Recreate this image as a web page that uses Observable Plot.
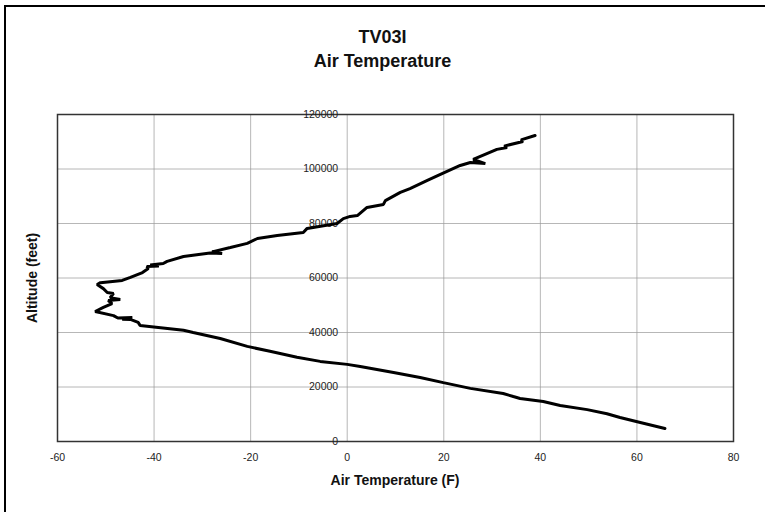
<!DOCTYPE html>
<html>
<head>
<meta charset="utf-8">
<script src="https://cdn.jsdelivr.net/npm/d3@7"></script>
<script src="https://cdn.jsdelivr.net/npm/@observablehq/plot@0.6"></script>
<style>
  html, body { margin: 0; padding: 0; background: #fff; }
  #wrap { position: relative; width: 765px; height: 512px; overflow: hidden; font-family: "Liberation Sans", Arial, sans-serif; }
  #border { position: absolute; left: 4px; top: 5px; width: 800px; height: 600px; border-left: 2px solid #000; border-top: 2px solid #000; }
  .t { position: absolute; left: 0; width: 765px; text-align: center; font-weight: bold; color: #111; }
  #xl { position: absolute; left: 57px; width: 676px; top: 472px; text-align: center; font-weight: bold; font-size: 14px; color: #111; }
  #yl { position: absolute; left: 32px; top: 278px; transform: translate(-50%, -50%) rotate(-90deg); white-space: nowrap; font-weight: bold; font-size: 14px; color: #111; }
  svg { position: absolute; left: 0; top: 0; }
</style>
</head>
<body>
<div id="wrap">
  <div id="chart"></div>
  <div id="border"></div>
  <div class="t" style="top:27px;font-size:18px;">TV03I</div>
  <div class="t" style="top:51px;font-size:18px;">Air Temperature</div>
  <div id="xl">Air Temperature (F)</div>
  <div id="yl">Altitude (feet)</div>
</div>
<script>
// Air temperature (F) vs altitude (feet), ordered from the surface upward
const temperature = [65.8, 60.7, 56.5, 53.8, 49.7, 44.1, 40.6, 35.8, 34.4, 32.3, 25.5, 19.9, 15.1, 9.6, 2.7, 0, -5.6, -10.4, -16, -20.7, -26.3, -31.9, -33.9, -42.9, -43.3, -44.9, -46.6, -44.5, -47.5, -48.4, -52.2, -50.5, -48.7, -49.5, -47, -49.1, -48.4, -49.7, -50.5, -51.8, -51.1, -46.6, -44.9, -42.4, -41.2, -41.5, -39, -40.8, -38.1, -37.3, -33.9, -28.4, -25.9, -28, -24.2, -20.7, -18.6, -14.5, -9.1, -8.3, -2.1, -0.8, 0.6, 2.1, 4.1, 7.5, 7.9, 11, 13, 16.6, 19.3, 23.4, 25.5, 28.6, 26.1, 31, 33.1, 32.5, 36.4, 36, 38.9];
const altitude = [4800, 7000, 8800, 10200, 11700, 13200, 14700, 15800, 16500, 17600, 19500, 21600, 23500, 25300, 27500, 28300, 29400, 30900, 33100, 34900, 37800, 40000, 40800, 42600, 43700, 44800, 44900, 45500, 45300, 46200, 47700, 49200, 50600, 51700, 52100, 52800, 54300, 54700, 56100, 57600, 58300, 59100, 60200, 62000, 63500, 64200, 64400, 64800, 65300, 66100, 67900, 69200, 69000, 69600, 71200, 72700, 74500, 75600, 76700, 78200, 80000, 81800, 82600, 82900, 85900, 87000, 88400, 91400, 92800, 95800, 98000, 101300, 102400, 102000, 103500, 107200, 107900, 108400, 110100, 110700, 112300];
const xTicks = [-60, -40, -20, 0, 20, 40, 60, 80];
const yTicks = [0, 20000, 40000, 60000, 80000, 100000, 120000];

const data = temperature.map((t, i) => ({t, a: altitude[i]}));

const chart = Plot.plot({
  width: 765,
  height: 512,
  marginLeft: 57,
  marginRight: 32,
  marginTop: 114,
  marginBottom: 71,
  style: { fontFamily: "Liberation Sans, Arial, sans-serif", fontSize: "10.5px", color: "#222", background: "transparent" },
  x: { domain: [-60, 80], ticks: xTicks, label: null },
  y: { domain: [0, 120000], ticks: yTicks, label: null },
  marks: [
    Plot.gridX(xTicks, { stroke: "#999", strokeOpacity: 0.7 }),
    Plot.gridY(yTicks, { stroke: "#999", strokeOpacity: 0.7 }),
    Plot.frame({ stroke: "#333", strokeWidth: 1.5 }),
    Plot.axisX(xTicks, { tickSize: 0, tickPadding: 12, tickFormat: d => String(d), fontSize: 10.5 }),
    Plot.axisY([], {}),
    Plot.text(yTicks, { x: 0, y: d => d, text: d => String(d), textAnchor: "end", dx: -9, fontSize: 10.5, fill: "#222" }),
    Plot.line(data, { x: "t", y: "a", stroke: "#000", strokeWidth: 3, strokeLinejoin: "miter", strokeLinecap: "round" })
  ]
});
document.getElementById("chart").appendChild(chart);
</script>
</body>
</html>
